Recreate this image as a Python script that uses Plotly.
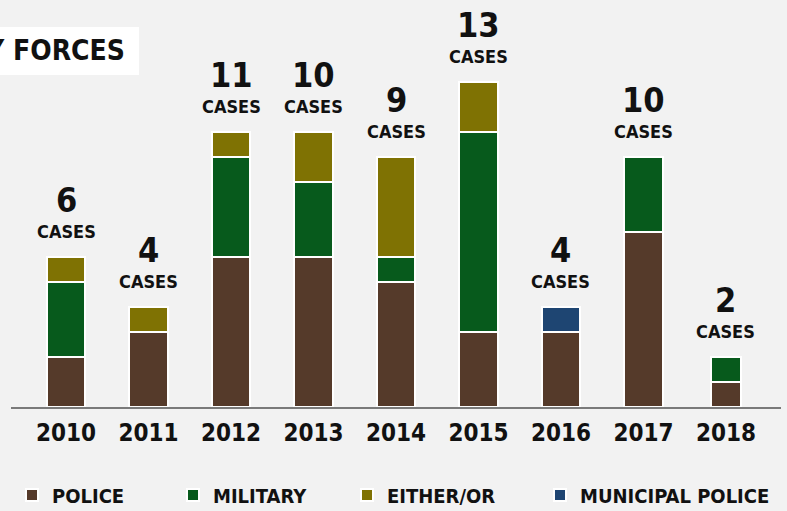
import plotly.graph_objects as go

years = ["2010", "2011", "2012", "2013", "2014", "2015", "2016", "2017", "2018"]
police = [2, 3, 6, 6, 5, 3, 3, 7, 1]
military = [3, 0, 4, 3, 1, 8, 0, 3, 1]
either_or = [1, 1, 1, 2, 4, 2, 0, 0, 0]
municipal = [0, 0, 0, 0, 0, 0, 1, 0, 0]
case_labels = ["6", "4", "11", "10", "9", "13", "4", "10", "2"]
title_text = "Y FORCES"

FONT = "DejaVu Sans Condensed, DejaVu Sans, sans-serif"
BG = "#f2f2f2"
INK = "#111111"
bar_widths = [0.47] * 8 + [0.37]

series = [
    ("POLICE", police, "#553a2a", 116),
    ("MILITARY", military, "#075a1c", 129),
    ("EITHER/OR", either_or, "#7f7203", 148),
    ("MUNICIPAL POLICE", municipal, "#1e4572", 190),
]

fig = go.Figure()
for name, vals, color, lw in series:
    fig.add_trace(go.Bar(
        x=years, y=vals, name=name, width=bar_widths,
        marker=dict(color=color, line=dict(color="white", width=2)),
        legendwidth=lw,
    ))

totals = [sum(v) for v in zip(police, military, either_or, municipal)]
annotations = []
for i, (tot, lab) in enumerate(zip(totals, case_labels)):
    annotations.append(dict(x=i, y=tot, text=lab, showarrow=False,
                            yanchor="middle", yshift=57,
                            font=dict(family=FONT, size=34, color=INK, weight="bold")))
    annotations.append(dict(x=i, y=tot, text="CASES", showarrow=False,
                            yanchor="middle", yshift=26,
                            font=dict(family=FONT, size=18, color=INK, weight="bold")))

L, W, T, H = 11, 770, 7, 400
def px_x(p):
    return (p - L) / W
def px_y(p):
    return (T + H - p) / H

annotations.append(dict(xref="paper", yref="paper", x=px_x(127), y=px_y(51),
                        xanchor="right", yanchor="middle", text=title_text,
                        showarrow=False, font=dict(family=FONT, size=28, color=INK, weight="bold")))

fig.update_layout(
    width=787, height=511, autosize=False,
    margin=dict(l=L, r=787 - L - W, t=T, b=511 - T - H, autoexpand=False),
    paper_bgcolor=BG, plot_bgcolor=BG,
    barmode="stack", bargap=0.5,
    showlegend=True,
    legend=dict(orientation="h", x=px_x(12), xanchor="left", y=px_y(495), yanchor="middle",
                traceorder="normal", font=dict(family=FONT, size=20, color=INK, weight="bold"),
                bgcolor="rgba(0,0,0,0)", itemclick=False),
    xaxis=dict(type="category", range=[-0.667, 8.667], showline=True, linecolor="#7a7a7a",
               linewidth=2, ticks="", showgrid=False, zeroline=False,
               tickfont=dict(family=FONT, size=24, color=INK, weight="bold"),
               ticklabelstandoff=3),
    yaxis=dict(range=[0, 16], visible=False, showgrid=False, zeroline=False),
    shapes=[dict(type="rect", xref="paper", yref="paper", x0=px_x(-5), x1=px_x(139),
                 y0=px_y(75), y1=px_y(27), fillcolor="white", line=dict(width=0), layer="below")],
    annotations=annotations,
    font=dict(family=FONT),
)

fig.write_html("out.html",
               config={"displayModeBar": False, "responsive": False},
               post_script="document.body.style.margin='0';document.body.style.overflow='hidden';"
                           "document.body.style.background='#f2f2f2';")
